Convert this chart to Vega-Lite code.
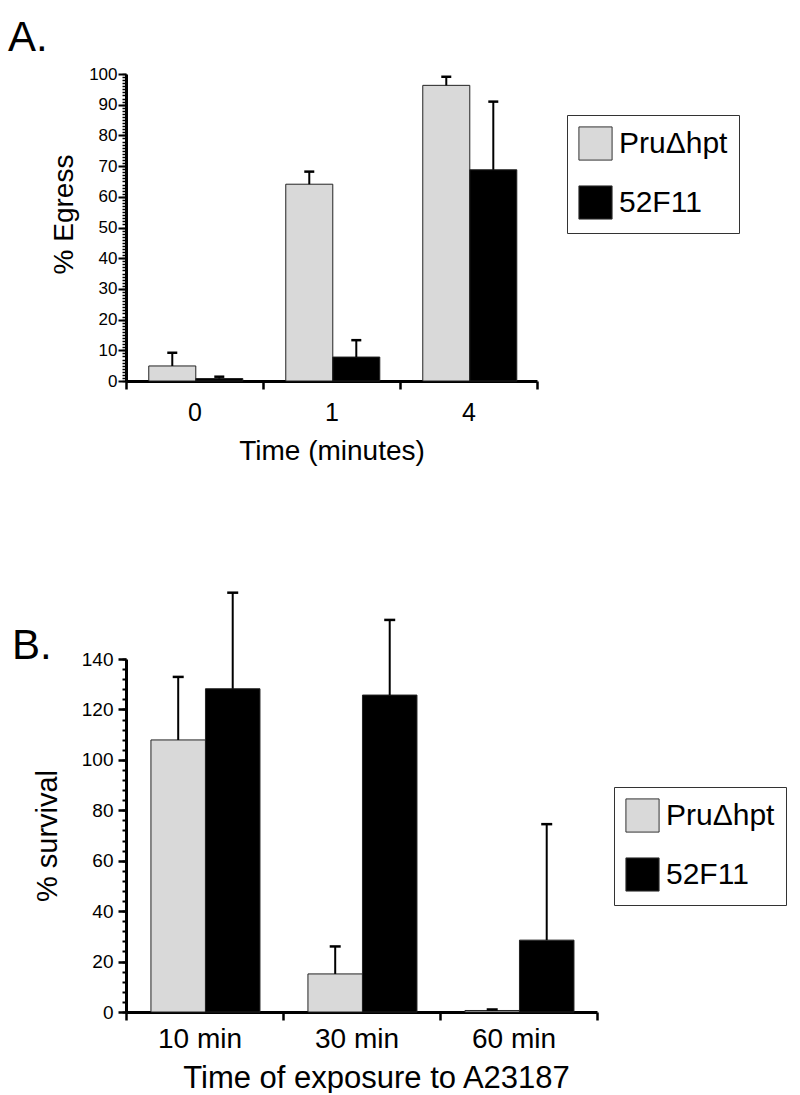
{
  "$schema": "https://vega.github.io/schema/vega-lite/v6.json",
  "padding": {"left": 8, "top": 17, "right": 0, "bottom": 0},
  "background": "white",
  "config": {
    "font": "Liberation Sans",
    "view": {"stroke": null},
    "axis": {"domainColor": "black", "tickColor": "black", "labelColor": "black", "titleColor": "black", "titleFontWeight": "normal", "grid": false, "labelFont": "Liberation Sans", "titleFont": "Liberation Sans"},
    "concat": {"spacing": 126}
  },
  "resolve": {"scale": {"x": "independent", "y": "independent", "color": "independent", "xOffset": "independent"}, "legend": {"color": "independent"}},
  "vconcat": [
    {
      "width": 411,
      "height": 307,
      "title": {"text": "A.", "anchor": "start", "frame": "group", "dx": -118, "offset": -28, "fontSize": 42, "fontWeight": "normal", "baseline": "alphabetic", "color": "black"},
      "data": {"values": [
        {"time": "0", "strain": "PruΔhpt", "value": 4.9, "upper": 9.2},
        {"time": "0", "strain": "52F11", "value": 0.8, "upper": 1.4},
        {"time": "1", "strain": "PruΔhpt", "value": 64.1, "upper": 68.2},
        {"time": "1", "strain": "52F11", "value": 7.8, "upper": 13.3},
        {"time": "4", "strain": "PruΔhpt", "value": 96.3, "upper": 99.1},
        {"time": "4", "strain": "52F11", "value": 68.8, "upper": 91.0}
      ]},
      "encoding": {
        "x": {"field": "time", "type": "nominal", "sort": ["0", "1", "4"], "title": "Time (minutes)",
          "scale": {"paddingInner": 0, "paddingOuter": 0},
          "axis": {"tickBand": "extent", "tickSize": 8, "tickWidth": 2.5, "domainWidth": 3, "labelAngle": 0, "labelFontSize": 25, "labelPadding": 11, "titleFontSize": 28, "titlePadding": 12}},
        "xOffset": {"field": "strain", "type": "nominal", "sort": ["PruΔhpt", "52F11"],
          "scale": {"domain": ["PruΔhpt", "52F11"], "paddingInner": 0, "paddingOuter": 0.457, "align": 0.53}}
      },
      "resolve": {"axis": {"y": "independent"}},
      "layer": [
        {
          "mark": {"type": "bar", "stroke": "#222", "strokeWidth": 1},
          "encoding": {
            "y": {"field": "value", "type": "quantitative", "title": "% Egress",
              "scale": {"domain": [0, 100], "nice": false},
              "axis": {"orient": "left", "values": [0, 10, 20, 30, 40, 50, 60, 70, 80, 90, 100], "tickSize": 8, "tickWidth": 2,
                "labelOverlap": false, "labelFontSize": 17, "labelPadding": 1, "domainWidth": 3,
                "titleFontSize": 28, "titlePadding": 10, "titleY": 140}},
            "color": {"field": "strain", "type": "nominal", "sort": ["PruΔhpt", "52F11"],
              "scale": {"domain": ["PruΔhpt", "52F11"], "range": ["#d9d9d9", "#000000"]},
              "legend": {"orient": "none", "legendX": 441, "legendY": 41, "title": null, "symbolType": "square", "symbolSize": 1100, "symbolStrokeColor": "#333", "symbolStrokeWidth": 1, "symbolOpacity": 1, "labelFontSize": 30, "labelColor": "black", "strokeColor": "#333", "fillColor": "white", "padding": 11, "rowPadding": 20, "labelOffset": 6}}
          }
        },
        {
          "mark": {"type": "rule", "strokeWidth": 2, "color": "black"},
          "encoding": {
            "y": {"field": "value", "type": "quantitative",
              "axis": {"orient": "left", "title": null, "labels": false, "domain": false, "tickSize": 4, "tickWidth": 1.5,
                "values": [0,1,2,3,4,5,6,7,8,9,10,11,12,13,14,15,16,17,18,19,20,21,22,23,24,25,26,27,28,29,30,31,32,33,34,35,36,37,38,39,40,41,42,43,44,45,46,47,48,49,50,51,52,53,54,55,56,57,58,59,60,61,62,63,64,65,66,67,68,69,70,71,72,73,74,75,76,77,78,79,80,81,82,83,84,85,86,87,88,89,90,91,92,93,94,95,96,97,98,99,100]}},
            "y2": {"field": "upper"}}
        },
        {
          "mark": {"type": "tick", "size": 10, "thickness": 2.5, "color": "black", "opacity": 1},
          "encoding": {"y": {"field": "upper", "type": "quantitative", "axis": null}}
        }
      ]
    },
    {
      "width": 471,
      "height": 353,
      "title": {"text": "B.", "anchor": "start", "frame": "group", "dx": -114, "offset": -110, "fontSize": 42, "fontWeight": "normal", "baseline": "alphabetic", "color": "black"},
      "data": {"values": [
        {"exposure": "10 min", "strain": "PruΔhpt", "value": 107.9, "upper": 132.9},
        {"exposure": "10 min", "strain": "52F11", "value": 128.2, "upper": 166.3},
        {"exposure": "30 min", "strain": "PruΔhpt", "value": 15.1, "upper": 26.0},
        {"exposure": "30 min", "strain": "52F11", "value": 125.7, "upper": 155.5},
        {"exposure": "60 min", "strain": "PruΔhpt", "value": 0.6, "upper": 1.0},
        {"exposure": "60 min", "strain": "52F11", "value": 28.5, "upper": 74.5}
      ]},
      "encoding": {
        "x": {"field": "exposure", "type": "nominal", "sort": ["10 min", "30 min", "60 min"], "title": "Time of exposure to A23187",
          "scale": {"paddingInner": 0, "paddingOuter": 0},
          "axis": {"tickBand": "extent", "tickSize": 8, "tickWidth": 2.5, "domainWidth": 3, "labelAngle": 0, "labelFontSize": 28, "labelPadding": 5, "labelOffset": -5, "titleFontSize": 31, "titlePadding": 10, "titleX": 250}},
        "xOffset": {"field": "strain", "type": "nominal", "sort": ["PruΔhpt", "52F11"],
          "scale": {"domain": ["PruΔhpt", "52F11"], "paddingInner": 0, "paddingOuter": 0.44, "align": 0.52}}
      },
      "resolve": {"axis": {"y": "independent"}},
      "layer": [
        {
          "mark": {"type": "bar", "stroke": "#222", "strokeWidth": 1},
          "encoding": {
            "y": {"field": "value", "type": "quantitative", "title": "% survival",
              "scale": {"domain": [0, 140], "nice": false},
              "axis": {"orient": "left", "values": [0, 20, 40, 60, 80, 100, 120, 140], "tickSize": 8, "tickWidth": 2.5,
                "labelOverlap": false, "labelFontSize": 19, "labelPadding": 5, "domainWidth": 3,
                "titleFontSize": 29, "titlePadding": 19}},
            "color": {"field": "strain", "type": "nominal", "sort": ["PruΔhpt", "52F11"],
              "scale": {"domain": ["PruΔhpt", "52F11"], "range": ["#d9d9d9", "#000000"]},
              "legend": {"orient": "none", "legendX": 488, "legendY": 128, "title": null, "symbolType": "square", "symbolSize": 1100, "symbolStrokeColor": "#333", "symbolStrokeWidth": 1, "symbolOpacity": 1, "labelFontSize": 30, "labelColor": "black", "strokeColor": "#333", "fillColor": "white", "padding": 11, "rowPadding": 20, "labelOffset": 6}}
          }
        },
        {
          "mark": {"type": "rule", "strokeWidth": 2, "color": "black"},
          "encoding": {
            "y": {"field": "value", "type": "quantitative",
              "axis": {"orient": "left", "title": null, "labels": false, "domain": false, "tickSize": 4, "tickWidth": 2,
                "values": [0,4,8,12,16,20,24,28,32,36,40,44,48,52,56,60,64,68,72,76,80,84,88,92,96,100,104,108,112,116,120,124,128,132,136,140]}},
            "y2": {"field": "upper"}}
        },
        {
          "mark": {"type": "tick", "size": 11, "thickness": 2.5, "color": "black", "opacity": 1},
          "encoding": {"y": {"field": "upper", "type": "quantitative", "axis": null}}
        }
      ]
    }
  ]
}
